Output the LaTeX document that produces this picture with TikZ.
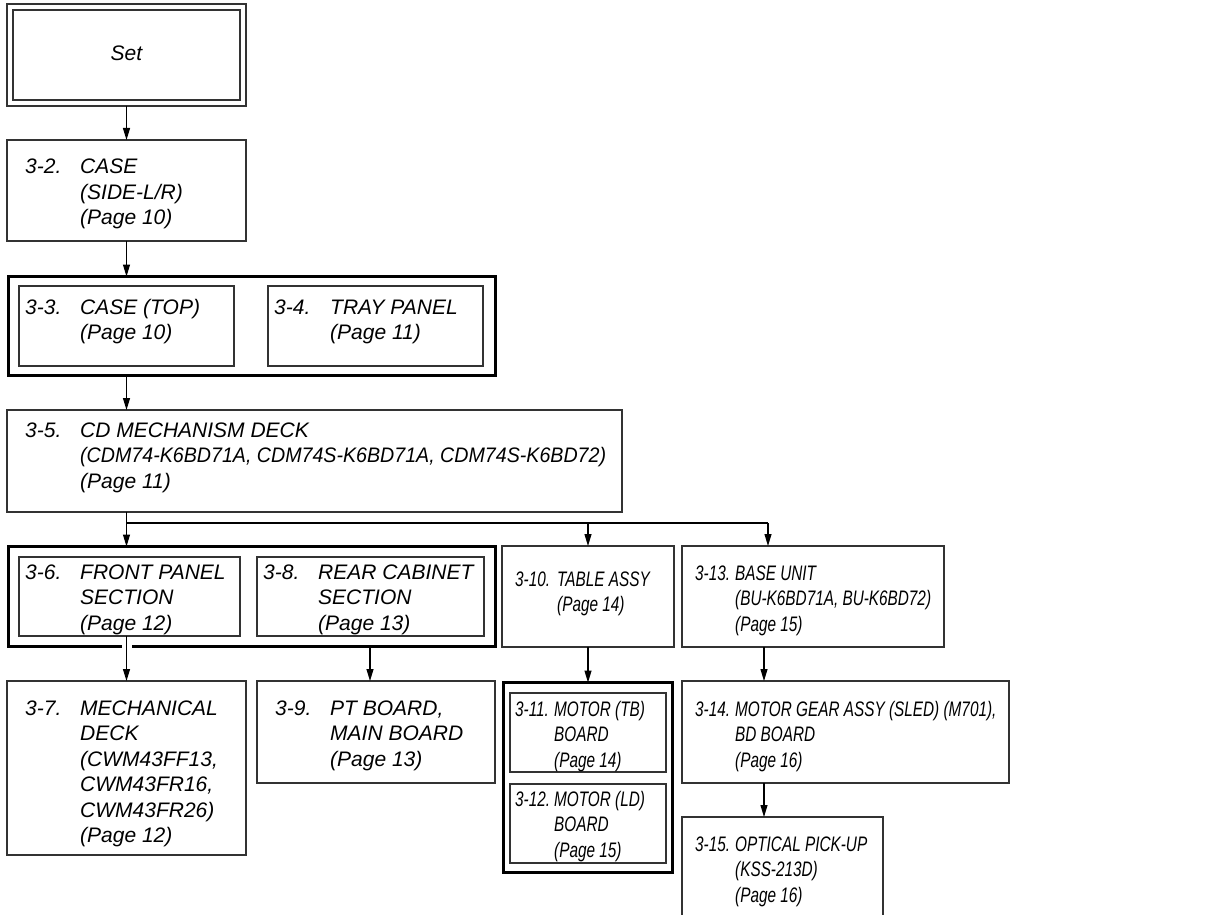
\documentclass[tikz,border=0pt]{standalone}
\usepackage{fontspec}
\usepackage{graphicx}
\setmainfont{Liberation Sans}
\newfontfamily\widefam{Liberation Sans}
\newfontfamily\narrowfam[FakeStretch=0.73]{Liberation Sans}
\usetikzlibrary{arrows.meta,calc}
\tikzset{
  box/.style={draw=black!80, line width=1.1pt, inner sep=0pt, outer sep=0pt, anchor=north west},
  grp/.style={draw=black, line width=3pt, inner sep=0pt, outer sep=0pt, anchor=north west},
  lblw/.style={inner sep=0pt, anchor=base west, font=\widefam\itshape\fontsize{21}{25.5}\selectfont},
  lbln/.style={inner sep=0pt, anchor=base west, font=\narrowfam\itshape\fontsize{21}{25.5}\selectfont},
  arr/.style={-{Triangle[length=12pt,width=7pt]}, line width=1.1pt, draw=black},
  ln/.style={line width=1.1pt, draw=black},
}
\newcommand\bx[6][box]{\node[#1, minimum width=#5pt, minimum height=#6pt] (#2) at (#3,#4) {};}
\newcommand\lab[7][lblw]{\node[#1] (#2) at (#3,#4) {\begin{tabular}[t]{@{}l@{}l@{}}\makebox[#5pt][l]{#6} & #7\end{tabular}};}
\begin{document}
\begin{tikzpicture}[x=1pt,y=-1pt]
\clip (0,0) rectangle (1213,915);
\fill[white] (0,0) rectangle (1213,915);
% boxes
\bx{set}{7}{4}{239}{102}
\bx{setin}{13}{10}{227}{90}
\bx{n32}{7}{140}{239}{101}
\bx[grp]{g1}{8.5}{276.5}{487}{99}
\bx{n33}{19}{286}{215}{80}
\bx{n34}{268}{286}{215}{80}
\bx{n35}{7}{410}{615}{102}
\bx[grp]{g2}{8.5}{546.5}{487}{100}
\bx{n36}{19}{557}{221}{79}
\bx{n38}{257}{557}{227}{79}
\bx{n310}{502}{546}{172}{101}
\bx{n313}{682}{546}{262}{101}
\bx{n37}{7}{681}{239}{174}
\bx{n39}{257}{681}{238}{102}
\bx[grp]{g3}{503.5}{682.5}{169}{190}
\bx{n311}{510}{693}{156}{79}
\bx{n312}{510}{784}{156}{79}
\bx{n314}{682}{681}{327}{102}
\bx{n315}{682}{817}{201}{120}
% texts
\node[lblw, anchor=base] (tset) at (126.5,61) {Set};
\lab{t32}{25}{174}{55}{3-2.}{CASE\\ & (SIDE-L/R)\\ & (Page 10)}
\lab{t33}{25}{314}{55}{3-3.}{CASE (TOP)\\ & (Page 10)}
\lab{t34}{274}{314}{56}{3-4.}{TRAY PANEL\\ & (Page 11)}
\lab{t35}{25}{437}{55}{3-5.}{CD MECHANISM DECK\\ & \scalebox{0.935}[1]{(CDM74-K6BD71A, CDM74S-K6BD71A, CDM74S-K6BD72)}\\ & (Page 11)}
\lab{t36}{25}{579}{55}{3-6.}{FRONT PANEL\\ & SECTION\\ & (Page 12)}
\lab{t38}{263}{579}{55}{3-8.}{REAR CABINET\\ & SECTION\\ & (Page 13)}
\lab{t37}{25}{715}{55}{3-7.}{MECHANICAL\\ & DECK\\ & (CWM43FF13,\\ & CWM43FR16,\\ & CWM43FR26)\\ & (Page 12)}
\lab{t39}{275}{715}{55}{3-9.}{PT BOARD,\\ & MAIN BOARD\\ & (Page 13)}
\lab[lbln]{t310}{515}{586}{42}{3-10.}{TABLE ASSY\\ & (Page 14)}
\lab[lbln]{t313}{695}{580}{40}{3-13.}{BASE UNIT\\ & (BU-K6BD71A, BU-K6BD72)\\ & (Page 15)}
\lab[lbln]{t311}{515}{716}{39}{3-11.}{MOTOR (TB)\\ & BOARD\\ & (Page 14)}
\lab[lbln]{t312}{515}{806}{39}{3-12.}{MOTOR (LD)\\ & BOARD\\ & (Page 15)}
\lab[lbln]{t314}{695}{716}{40}{3-14.}{MOTOR GEAR ASSY (SLED) (M701),\\ & BD BOARD\\ & (Page 16)}
\lab[lbln]{t315}{695}{851}{40}{3-15.}{OPTICAL PICK-UP\\ & (KSS-213D)\\ & (Page 16)}
% connectors
\coordinate (bus) at (126.5,523);
\coordinate (c13a) at (768,523);
\coordinate (c13b) at (764,0);
\coordinate (c38) at (370,0);
\draw[arr] (set.south) -- (n32.north);
\draw[arr] (n32.south) -- (n32.south |- g1.north);
\draw[arr] (g1.south -| n32.south) -- (n35.north -| n32.south);
\draw[ln] (n35.south -| bus) -- (bus) -- (c13a);
\draw[arr] (bus) -- (g2.north -| bus);
\draw[arr] (bus -| n310.north) -- (n310.north);
\draw[arr] (c13a) -- (n313.north -| c13a);
\fill[white] ($(g2.south -| bus)+(-5,-3)$) rectangle ($(g2.south -| bus)+(5,3)$);
\draw[arr] (n36.south -| n37.north) -- (n37.north);
\draw[arr] (g2.south -| c38) -- (n39.north -| c38);
\draw[arr] (n310.south) -- (g3.north);
\draw[arr] (n313.south -| c13b) -- (n314.north -| c13b);
\draw[arr] (n314.south -| c13b) -- (n315.north -| c13b);
\end{tikzpicture}
\end{document}
